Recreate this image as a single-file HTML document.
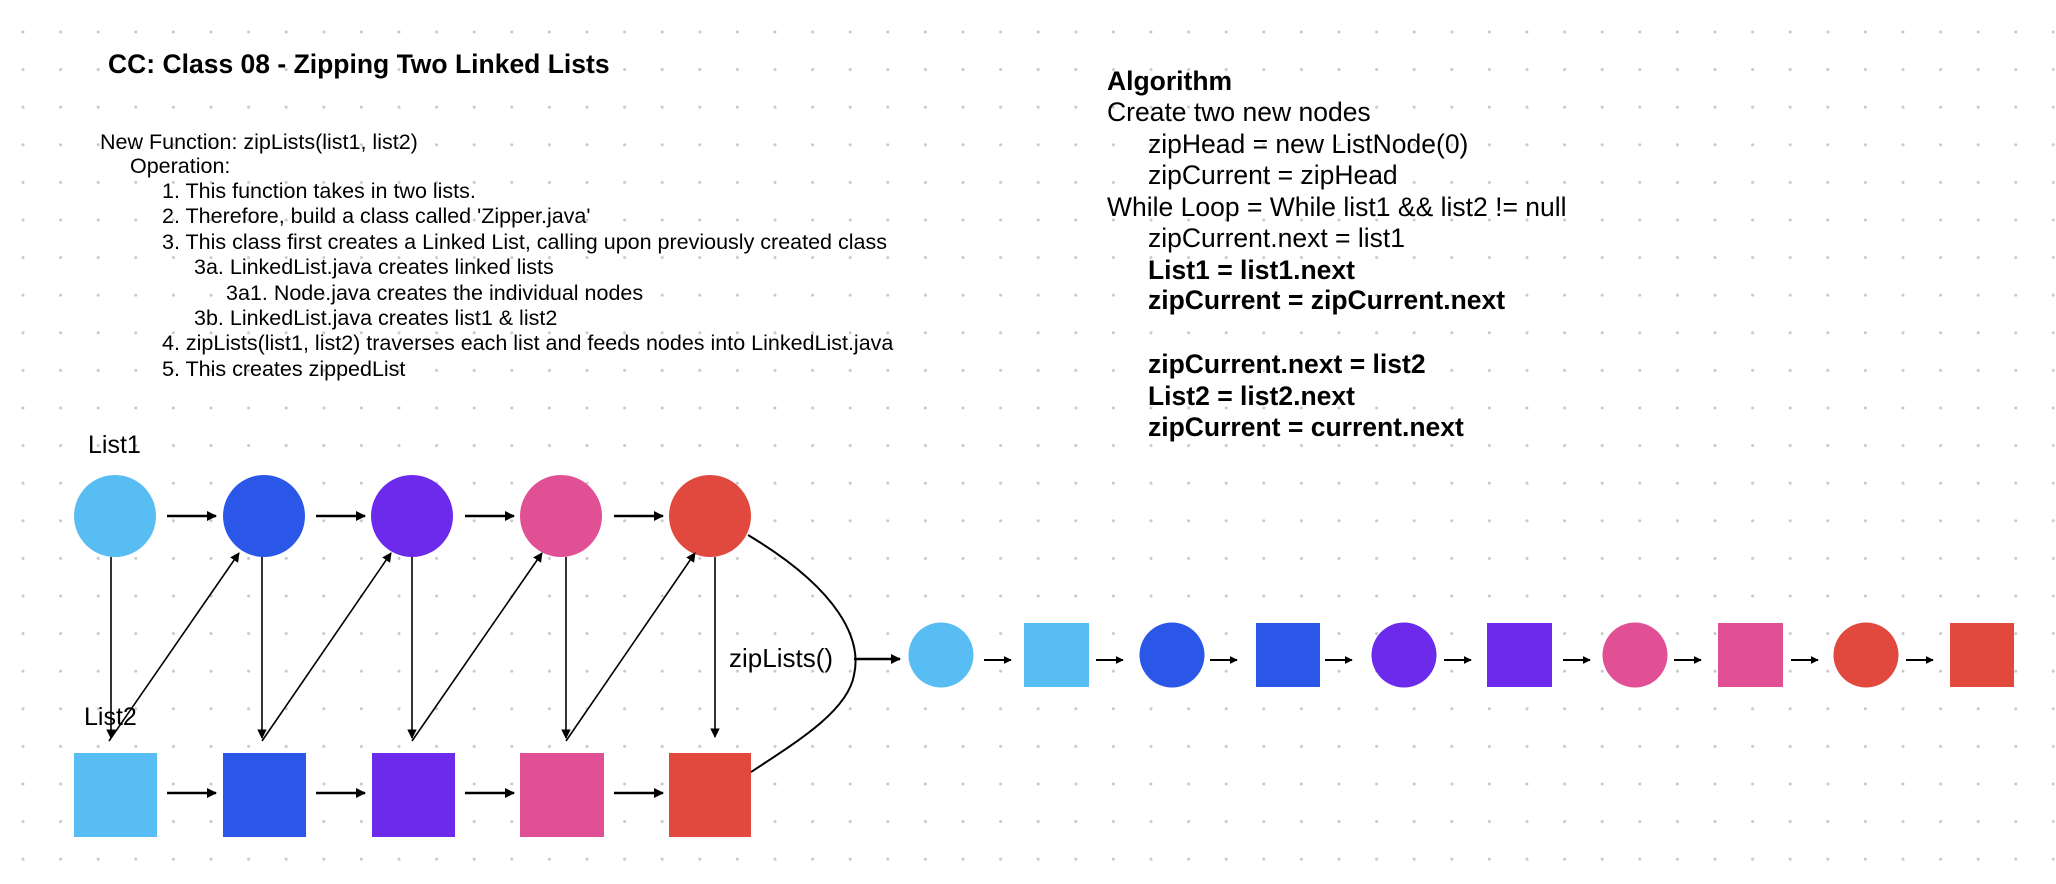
<!DOCTYPE html>
<html><head><meta charset="utf-8"><style>
html,body{margin:0;padding:0;background:#fff;}
svg{display:block;}
text{font-family:"Liberation Sans",sans-serif;fill:#000;}
</style></head><body>
<svg width="2056" height="884" viewBox="0 0 2056 884" xmlns="http://www.w3.org/2000/svg">
<defs>
<pattern id="dots" x="23" y="32" width="37.6" height="37.6" patternUnits="userSpaceOnUse">
<circle cx="1.5" cy="1.5" r="1.5" fill="#c8c8c8"/>
</pattern>
<marker id="ah" viewBox="0 0 10 10" refX="9" refY="5" markerWidth="4" markerHeight="4" orient="auto"><path d="M0,0 L10,5 L0,10 z" fill="#000"/></marker>
<marker id="ah2" viewBox="0 0 10 10" refX="9" refY="5" markerWidth="6" markerHeight="6" orient="auto"><path d="M0,0 L10,5 L0,10 z" fill="#000"/></marker>
</defs>
<rect x="0" y="0" width="2056" height="884" fill="url(#dots)" transform="translate(-1.5,-1.5)"/>

<text x="108" y="73" font-size="26.5" font-weight="bold">CC: Class 08 - Zipping Two Linked Lists</text>

<g font-size="21.5">
<text x="100" y="149">New Function: zipLists(list1, list2)</text>
<text x="130" y="173">Operation:</text>
<text x="162" y="198">1. This function takes in two lists.</text>
<text x="162" y="223">2. Therefore, build a class called 'Zipper.java'</text>
<text x="162" y="249">3. This class first creates a Linked List, calling upon previously created class</text>
<text x="194" y="274">3a. LinkedList.java creates linked lists</text>
<text x="226" y="300">3a1. Node.java creates the individual nodes</text>
<text x="194" y="325">3b. LinkedList.java creates list1 &amp; list2</text>
<text x="162" y="350">4. zipLists(list1, list2) traverses each list and feeds nodes into LinkedList.java</text>
<text x="162" y="376">5. This creates zippedList</text>
</g>

<g font-size="26.5">
<text x="1107" y="90" font-weight="bold">Algorithm</text>
<text x="1107" y="121">Create two new nodes</text>
<text x="1148" y="153">zipHead = new ListNode(0)</text>
<text x="1148" y="184">zipCurrent = zipHead</text>
<text x="1107" y="216">While Loop = While list1 &amp;&amp; list2 != null</text>
<text x="1148" y="247">zipCurrent.next = list1</text>
<text x="1148" y="279" font-weight="bold">List1 = list1.next</text>
<text x="1148" y="309" font-weight="bold">zipCurrent = zipCurrent.next</text>
<text x="1148" y="373" font-weight="bold">zipCurrent.next = list2</text>
<text x="1148" y="405" font-weight="bold">List2 = list2.next</text>
<text x="1148" y="436" font-weight="bold">zipCurrent = current.next</text>
</g>

<text x="88" y="453" font-size="25">List1</text>

<circle cx="115" cy="516" r="41" fill="#58BDF2"/>
<circle cx="264" cy="516" r="41" fill="#2A57E8"/>
<circle cx="412" cy="516" r="41" fill="#6C2BEB"/>
<circle cx="561" cy="516" r="41" fill="#E14F94"/>
<circle cx="710" cy="516" r="41" fill="#E2493E"/>

<rect x="74" y="753" width="83" height="84" fill="#58BDF2"/>
<rect x="223" y="753" width="83" height="84" fill="#2A57E8"/>
<rect x="372" y="753" width="83" height="84" fill="#6C2BEB"/>
<rect x="520" y="753" width="84" height="84" fill="#E14F94"/>
<rect x="669" y="753" width="82" height="84" fill="#E2493E"/>

<g stroke="#000" stroke-width="2.5" marker-end="url(#ah)">
<line x1="167" y1="516" x2="216" y2="516"/>
<line x1="316" y1="516" x2="365" y2="516"/>
<line x1="465" y1="516" x2="514" y2="516"/>
<line x1="614" y1="516" x2="663" y2="516"/>
<line x1="167" y1="793" x2="216" y2="793"/>
<line x1="316" y1="793" x2="365" y2="793"/>
<line x1="465" y1="793" x2="514" y2="793"/>
<line x1="614" y1="793" x2="663" y2="793"/>
</g>

<g stroke="#000" stroke-width="1.6" marker-end="url(#ah2)">
<line x1="111" y1="557" x2="111" y2="738"/>
<line x1="262" y1="557" x2="262" y2="738"/>
<line x1="412" y1="557" x2="412" y2="738"/>
<line x1="566" y1="557" x2="566" y2="738"/>
<line x1="715" y1="557" x2="715" y2="737"/>
<line x1="109" y1="741" x2="239" y2="553"/>
<line x1="262" y1="741" x2="391" y2="553"/>
<line x1="412" y1="741" x2="542" y2="553"/>
<line x1="566" y1="741" x2="695" y2="553"/>
</g>

<text x="84" y="725" font-size="25">List2</text>

<path d="M748,535 C840,590 862,640 854,675 C848,710 800,740 751,772" fill="none" stroke="#000" stroke-width="2"/>
<line x1="854" y1="659" x2="900" y2="659" stroke="#000" stroke-width="2.5" marker-end="url(#ah)"/>
<text x="729" y="667" font-size="26">zipLists()</text>

<circle cx="941" cy="655" r="32.5" fill="#58BDF2"/>
<rect x="1024" y="623" width="65" height="64" fill="#58BDF2"/>
<circle cx="1172" cy="655" r="32.5" fill="#2A57E8"/>
<rect x="1256" y="623" width="64" height="64" fill="#2A57E8"/>
<circle cx="1404" cy="655" r="32.5" fill="#6C2BEB"/>
<rect x="1487" y="623" width="65" height="64" fill="#6C2BEB"/>
<circle cx="1635" cy="655" r="32.5" fill="#E14F94"/>
<rect x="1718" y="623" width="65" height="64" fill="#E14F94"/>
<circle cx="1866" cy="655" r="32.5" fill="#E2493E"/>
<rect x="1950" y="623" width="64" height="64" fill="#E2493E"/>

<g stroke="#000" stroke-width="2" marker-end="url(#ah)">
<line x1="984" y1="660" x2="1011" y2="660"/>
<line x1="1096" y1="660" x2="1123" y2="660"/>
<line x1="1210" y1="660" x2="1237" y2="660"/>
<line x1="1325" y1="660" x2="1352" y2="660"/>
<line x1="1444" y1="660" x2="1471" y2="660"/>
<line x1="1563" y1="660" x2="1590" y2="660"/>
<line x1="1674" y1="660" x2="1701" y2="660"/>
<line x1="1791" y1="660" x2="1818" y2="660"/>
<line x1="1906" y1="660" x2="1933" y2="660"/>
</g>
</svg>
</body></html>
